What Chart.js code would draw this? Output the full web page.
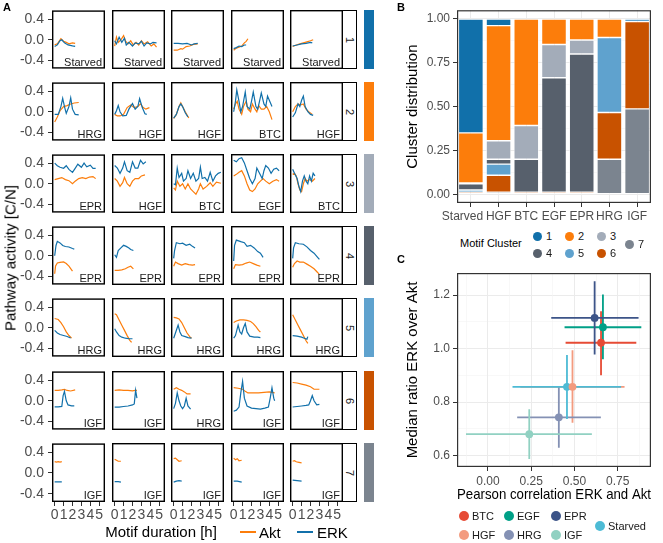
<!DOCTYPE html>
<html>
<head>
<meta charset="utf-8">
<script src="https://cdn.jsdelivr.net/npm/chart.js@4.4.1/dist/chart.umd.min.js"></script>
<style>
  html, body { margin: 0; padding: 0; background: #fff; }
  body { width: 663px; height: 543px; position: relative; overflow: hidden;
         font-family: 'Liberation Sans', Arial, sans-serif; color: #1a1a1a; }
  canvas { position: absolute; }
  .abs { position: absolute; white-space: pre; }
  .strip { position: absolute; box-sizing: border-box; border: 1.4px solid #000; border-left: 0; background: #fff; }
  .dot { position: absolute; border-radius: 50%; }
</style>
</head>
<body>
<script>
// ---------- panel A: example motifs per cluster ----------
const xTicksA = [0, 1, 2, 3, 4, 5];
const yTicksA = [-0.4, 0, 0.4];
const clusters = ['1', '2', '3', '4', '5', '6', '7'];
const clusterColors = ['#1170AA', '#FC7D0B', '#A3ACB9', '#57606C', '#5FA2CE', '#C85200', '#7B848F'];

const panelTreatments = [
  ['Starved', 'Starved', 'Starved', 'Starved', 'Starved'],
  ['HRG', 'HGF', 'HGF', 'BTC', 'HGF'],
  ['EPR', 'HGF', 'BTC', 'EGF', 'BTC'],
  ['EPR', 'EPR', 'EPR', 'EPR', 'EPR'],
  ['HRG', 'HRG', 'HRG', 'HRG', 'HRG'],
  ['IGF', 'IGF', 'HRG', 'IGF', 'IGF'],
  ['IGF', 'IGF', 'IGF', 'IGF', 'IGF']
];

// [time h, activity] pairs, one list per panel
const erk1 = [
  [[0,-0.13],[0.3,-0.1],[0.6,-0.02],[0.8,0.0],[1.1,-0.06],[1.5,-0.1],[2.0,-0.12],[2.3,-0.13]],
  [[0,-0.02],[0.2,-0.08],[0.5,0.05],[0.8,-0.05],[1.1,0.03],[1.3,-0.1],[1.6,-0.05],[2.0,-0.12],[2.3,-0.06],[2.7,-0.08],[3.0,-0.03],[3.3,-0.12],[3.6,-0.06],[4.0,-0.08],[4.3,-0.05],[4.7,-0.06]],
  [[0,-0.07],[0.5,-0.07],[1.0,-0.08],[1.5,-0.07],[2.0,-0.1],[2.3,-0.08],[2.7,-0.07]],
  [[0,-0.17],[0.3,-0.15],[0.6,-0.12],[0.9,-0.13],[1.2,-0.1],[1.4,-0.1]],
  [[0,-0.12],[0.5,-0.1],[1.0,-0.08],[1.5,-0.07],[2.0,-0.05],[2.2,-0.06]]
];
const akt1 = [
  [[0,-0.1],[0.3,-0.08],[0.7,0.02],[1.0,-0.03],[1.3,-0.05],[1.6,-0.08],[2.0,-0.06],[2.3,-0.07]],
  [[0,-0.12],[0.2,0.05],[0.4,-0.05],[0.7,0.0],[1.0,0.08],[1.2,-0.02],[1.5,-0.08],[1.8,-0.02],[2.1,-0.1],[2.4,-0.05],[2.7,-0.1],[3.0,-0.02],[3.3,-0.08],[3.7,-0.04],[4.1,-0.12],[4.4,-0.08],[4.7,-0.14]],
  [[0,-0.2],[0.4,-0.2],[0.8,-0.17],[1.0,-0.18],[1.4,-0.13],[1.8,-0.12],[2.2,-0.09],[2.7,-0.08]],
  [[0,-0.2],[0.3,-0.16],[0.6,-0.14],[0.9,-0.12],[1.2,-0.06],[1.4,-0.03],[1.6,0.02]],
  [[0,-0.13],[0.4,-0.1],[0.8,-0.08],[1.2,-0.06],[1.6,-0.04],[2.0,-0.02],[2.3,0.0]]
];
const erk2 = [
  [[0,-0.05],[0.4,-0.05],[0.7,0.1],[0.9,0.26],[1.1,0.1],[1.3,-0.03],[1.6,0.1],[1.8,0.27],[2.0,0.05],[2.3,-0.05],[2.7,-0.06]],
  [[0,-0.05],[0.2,0.02],[0.4,0.12],[0.6,0.0],[0.9,-0.08],[1.3,-0.07],[1.6,0.05],[2.0,0.16],[2.3,0.05],[2.6,0.1],[2.8,0.25],[3.1,0.08],[3.4,-0.04],[3.6,-0.05]],
  [[0,-0.12],[0.3,-0.05],[0.6,0.1],[0.8,0.15],[1.0,0.1],[1.3,-0.02],[1.6,-0.1]],
  [[0,0.0],[0.2,0.2],[0.35,0.42],[0.6,0.2],[0.8,0.0],[1.0,0.1],[1.3,0.38],[1.5,0.1],[1.8,0.05],[2.0,0.2],[2.2,0.38],[2.5,0.1],[2.7,0.05],[2.9,0.2],[3.1,0.36],[3.4,0.15],[3.6,0.1],[3.8,0.3],[4.0,0.22],[4.3,0.1]],
  [[0,-0.1],[0.3,-0.02],[0.6,0.15],[0.8,0.1],[1.0,0.22],[1.2,0.3],[1.4,0.1],[1.7,0.0],[2.0,-0.05],[2.3,-0.07]]
];
const akt2 = [
  [[0,-0.2],[0.3,-0.1],[0.6,0.02],[1.0,0.1],[1.4,0.12],[1.8,0.15],[2.2,0.17],[2.7,0.18]],
  [[0,-0.05],[0.3,-0.08],[0.6,-0.08],[1.0,-0.05],[1.4,0.08],[1.8,0.13],[2.2,0.08],[2.6,0.1],[2.9,0.15],[3.2,0.08],[3.5,0.05],[3.9,0.08]],
  [[0,-0.13],[0.3,-0.05],[0.6,0.1],[0.8,0.17],[1.0,0.1],[1.3,0.0],[1.7,-0.12]],
  [[0,0.05],[0.2,0.15],[0.4,0.2],[0.6,0.05],[0.9,-0.05],[1.1,0.1],[1.4,0.2],[1.6,0.05],[1.9,0.0],[2.1,0.15],[2.4,0.05],[2.6,0.0],[2.8,0.12],[3.1,0.05],[3.4,0.05],[3.7,0.1],[4.0,0.0],[4.3,-0.15]],
  [[0,0.0],[0.3,0.1],[0.6,0.15],[0.9,0.13],[1.2,0.15],[1.5,0.05],[1.8,0.0],[2.2,-0.05]]
];
const erk3 = [
  [[0,0.4],[0.3,0.35],[0.6,0.32],[1.0,0.3],[1.3,0.35],[1.6,0.28],[2.0,0.22],[2.3,0.3],[2.6,0.38],[3.0,0.32],[3.3,0.4],[3.6,0.33],[4.0,0.36],[4.3,0.3],[4.6,0.3]],
  [[0,0.35],[0.3,0.3],[0.6,0.2],[0.9,0.3],[1.1,0.42],[1.4,0.25],[1.7,0.22],[2.0,0.42],[2.3,0.3],[2.6,0.3],[2.9,0.45],[3.2,0.38],[3.5,0.42]],
  [[0,0.0],[0.2,-0.02],[0.4,0.3],[0.6,0.12],[0.9,0.2],[1.1,0.05],[1.4,0.1],[1.6,0.25],[1.9,0.1],[2.2,0.2],[2.5,0.05],[2.8,0.1],[3.0,0.32],[3.2,0.1],[3.5,0.12],[3.8,0.05],[4.1,0.22],[4.4,0.05],[4.7,0.15],[5.0,0.2],[5.3,0.22]],
  [[0,0.45],[0.3,0.42],[0.6,0.48],[0.9,0.5],[1.2,0.4],[1.5,0.25],[1.8,0.1],[2.1,0.0],[2.4,0.1],[2.6,0.3],[2.9,0.2],[3.2,0.1],[3.4,0.25],[3.6,0.35],[3.9,0.3],[4.2,0.2],[4.5,0.28],[4.8,0.3],[5.1,0.25]],
  [[0,0.28],[0.2,0.2],[0.5,0.1],[0.7,-0.05],[0.9,-0.15],[1.1,0.05],[1.3,0.15],[1.5,0.05],[1.7,0.0],[1.9,0.15],[2.1,0.05],[2.3,0.2],[2.5,0.15]]
];
const akt3 = [
  [[0,0.08],[0.4,0.1],[0.8,0.12],[1.2,0.08],[1.6,0.06],[2.0,0.0],[2.3,0.05],[2.7,0.1],[3.1,0.12],[3.5,0.1],[3.9,0.13],[4.3,0.14],[4.6,0.1]],
  [[0,0.1],[0.3,0.05],[0.6,-0.05],[0.9,0.02],[1.1,0.12],[1.4,0.0],[1.7,-0.05],[2.0,0.05],[2.3,0.1],[2.7,0.1],[3.0,0.15],[3.4,0.17]],
  [[0,-0.08],[0.2,-0.12],[0.4,0.05],[0.7,-0.05],[1.0,0.0],[1.3,-0.1],[1.6,0.0],[1.9,-0.1],[2.2,-0.15],[2.5,-0.2],[2.8,-0.1],[3.0,0.0],[3.3,-0.1],[3.7,-0.05],[4.1,0.02],[4.4,-0.05],[4.8,0.03],[5.3,0.01]],
  [[0,0.15],[0.3,0.18],[0.6,0.22],[0.9,0.25],[1.2,0.15],[1.5,0.0],[1.8,-0.12],[2.1,-0.15],[2.4,-0.1],[2.7,0.0],[3.0,0.05],[3.3,0.1],[3.6,0.05],[4.0,0.0],[4.4,0.05],[4.8,0.08],[5.1,0.05]],
  [[0,0.18],[0.2,0.2],[0.4,0.15],[0.6,0.0],[0.8,-0.12],[1.0,-0.15],[1.2,0.0],[1.4,0.1],[1.6,0.05],[1.9,0.08],[2.2,0.05],[2.5,0.1]]
];
const erk4 = [
  [[0,0.0],[0.15,0.2],[0.3,0.28],[0.6,0.25],[0.9,0.2],[1.2,0.18],[1.6,0.17],[2.0,0.14],[2.2,0.13]],
  [[0,0.02],[0.2,-0.03],[0.4,0.1],[0.7,0.15],[1.0,0.2],[1.3,0.18],[1.6,0.15],[1.8,0.12],[2.1,0.1]],
  [[0,-0.05],[0.1,0.1],[0.3,0.25],[0.7,0.23],[1.0,0.24],[1.4,0.2],[1.8,0.22],[2.1,0.18],[2.4,0.15]],
  [[0,-0.1],[0.1,0.2],[0.3,0.3],[0.8,0.27],[1.2,0.25],[1.5,0.18],[1.9,0.2],[2.3,0.15],[2.7,0.08],[3.0,0.05],[3.3,-0.03]],
  [[0,-0.05],[0.1,0.15],[0.3,0.25],[0.7,0.23],[1.2,0.22],[1.6,0.17],[2.0,0.1],[2.4,0.05],[2.8,-0.03],[3.0,-0.07]]
];
const akt4 = [
  [[0,-0.35],[0.1,-0.2],[0.3,-0.14],[0.6,-0.13],[1.0,-0.12],[1.3,-0.15],[1.6,-0.2],[2.0,-0.3]],
  [[0,-0.28],[0.4,-0.28],[0.8,-0.27],[1.2,-0.25],[1.5,-0.22],[1.8,-0.2],[2.1,-0.25]],
  [[0,-0.2],[0.2,-0.12],[0.5,-0.15],[0.9,-0.18],[1.3,-0.15],[1.7,-0.17],[2.1,-0.18],[2.4,-0.17]],
  [[0,-0.25],[0.2,-0.17],[0.6,-0.18],[1.0,-0.17],[1.4,-0.14],[1.8,-0.12],[2.2,-0.15],[2.6,-0.18],[3.0,-0.2]],
  [[0,-0.22],[0.2,-0.15],[0.5,-0.1],[0.8,-0.12],[1.2,-0.12],[1.6,-0.16],[2.0,-0.2],[2.4,-0.25],[2.8,-0.32],[3.0,-0.36]]
];
const erk5 = [
  [[0,-0.05],[0.3,-0.1],[0.6,-0.13],[1.0,-0.15],[1.4,-0.17],[1.8,-0.2]],
  [[0,-0.02],[0.2,-0.08],[0.5,-0.15],[0.8,-0.18],[1.2,-0.2],[1.6,-0.21],[2.0,-0.21]],
  [[0,-0.2],[0.2,-0.1],[0.5,0.05],[0.7,-0.08],[0.9,-0.15],[1.3,-0.17],[1.6,-0.19],[2.0,-0.2]],
  [[0,-0.2],[0.2,-0.15],[0.5,0.05],[0.7,-0.08],[0.9,-0.12],[1.1,0.0],[1.3,0.08],[1.5,-0.08],[1.8,-0.16],[2.3,-0.18],[2.7,-0.18],[3.0,-0.19]],
  [[0,-0.15],[0.5,-0.16],[1.0,-0.18],[1.3,-0.2],[1.6,-0.22],[1.7,-0.17]]
];
const akt5 = [
  [[0,0.18],[0.4,0.16],[0.7,0.1],[1.0,0.02],[1.3,-0.08],[1.6,-0.15],[1.9,-0.2]],
  [[0,0.27],[0.2,0.25],[0.5,0.15],[0.8,0.05],[1.1,-0.05],[1.4,-0.15],[1.7,-0.24],[1.9,-0.28]],
  [[0,0.2],[0.3,0.19],[0.6,0.17],[0.9,0.1],[1.2,0.0],[1.5,-0.1],[1.8,-0.17],[2.0,-0.2]],
  [[0,0.1],[0.3,0.13],[0.7,0.15],[1.1,0.15],[1.5,0.14],[1.9,0.12],[2.2,0.08],[2.5,0.02],[2.8,-0.05],[3.0,-0.08]],
  [[0,0.25],[0.3,0.15],[0.6,0.05],[0.9,-0.05],[1.2,-0.15],[1.5,-0.25],[1.7,-0.3]]
];
const erk6 = [
  [[0,-0.12],[0.4,-0.12],[0.8,-0.11],[0.95,0.1],[1.1,0.18],[1.3,0.0],[1.5,-0.08],[1.9,-0.1],[2.2,-0.1]],
  [[0,-0.12],[0.5,-0.12],[1.0,-0.11],[1.5,-0.1],[2.0,-0.08],[2.2,-0.06],[2.35,0.2],[2.5,0.05]],
  [[0,-0.15],[0.2,-0.05],[0.4,0.15],[0.6,0.0],[0.8,-0.1],[1.0,-0.15],[1.2,-0.1],[1.4,0.05],[1.6,-0.1],[1.9,-0.16]],
  [[0,-0.2],[0.3,-0.18],[0.6,-0.12],[0.8,0.15],[1.0,0.37],[1.2,0.05],[1.5,-0.1],[2.0,-0.14],[2.5,-0.15],[3.0,-0.16],[3.5,-0.14],[3.9,-0.12],[4.1,0.05],[4.3,0.25],[4.5,0.05],[4.6,0.0]],
  [[0,-0.12],[0.5,-0.11],[1.0,-0.1],[1.5,-0.09],[1.8,-0.08],[2.0,0.0],[2.2,0.1],[2.4,0.0],[2.7,-0.08],[3.0,-0.07]]
];
const akt6 = [
  [[0,0.2],[0.4,0.2],[0.8,0.21],[1.1,0.22],[1.4,0.2],[1.8,0.19],[2.3,0.21]],
  [[0,0.2],[0.5,0.21],[1.0,0.2],[1.5,0.2],[2.0,0.19],[2.3,0.2],[2.5,0.2]],
  [[0,0.22],[0.3,0.25],[0.6,0.22],[0.9,0.2],[1.2,0.17],[1.5,0.13],[1.9,0.13]],
  [[0,0.25],[0.5,0.24],[1.0,0.22],[1.3,0.18],[1.6,0.15],[2.2,0.15],[2.8,0.15],[3.4,0.16],[4.0,0.17],[4.6,0.15]],
  [[0,0.35],[0.5,0.34],[1.0,0.32],[1.5,0.3],[2.0,0.27],[2.4,0.22],[2.7,0.22],[3.0,0.22]]
];
const erk7 = [
  [[0,-0.17],[0.4,-0.17],[0.8,-0.17]],
  [[0,-0.17],[0.4,-0.17],[0.7,-0.18]],
  [[0,-0.18],[0.3,-0.16],[0.6,-0.15],[0.9,-0.16]],
  [[0,-0.16],[0.4,-0.16],[0.9,-0.18]],
  [[0,-0.14],[0.5,-0.15],[1.0,-0.16]]
];
const akt7 = [
  [[0,0.22],[0.2,0.21],[0.4,0.22],[0.6,0.21],[0.8,0.22]],
  [[0,0.26],[0.2,0.24],[0.4,0.22],[0.7,0.22]],
  [[0,0.27],[0.2,0.28],[0.4,0.25],[0.6,0.22],[0.9,0.23]],
  [[0,0.28],[0.2,0.25],[0.4,0.27],[0.6,0.23],[0.9,0.24]],
  [[0,0.22],[0.2,0.23],[0.4,0.21],[0.7,0.2],[1.0,0.19]]
];
const erkRows = [erk1, erk2, erk3, erk4, erk5, erk6, erk7];
const aktRows = [akt1, akt2, akt3, akt4, akt5, akt6, akt7];

// ---------- panel B: cluster distribution per treatment ----------
const treatmentsB = ['Starved', 'HGF', 'BTC', 'EGF', 'EPR', 'HRG', 'IGF'];
const share1 = [0.65, 0.038, 0, 0, 0, 0, 0];
const share2 = [0.286, 0.657, 0.608, 0.146, 0.12, 0.106, 0];
const share3 = [0.005, 0.105, 0.192, 0.189, 0.08, 0, 0];
const share4 = [0.035, 0.028, 0.188, 0.653, 0.788, 0, 0];
const share5 = [0.012, 0.064, 0, 0, 0, 0.428, 0.015];
const share6 = [0.012, 0.096, 0.012, 0.012, 0.012, 0.266, 0.498];
const share7 = [0, 0.012, 0, 0, 0, 0.2, 0.487];
const shares = [share1, share2, share3, share4, share5, share6, share7];
const yTicksB = [0, 0.25, 0.5, 0.75, 1];
const yMinorB = [0.125, 0.375, 0.625, 0.875];

// ---------- panel C: correlation vs ratio ----------
const treatmentsC = ['BTC', 'EGF', 'EPR', 'HGF', 'HRG', 'IGF', 'Starved'];
const treatColors = ['#E64B35', '#00A087', '#3C5488', '#F39B7F', '#8491B4', '#91D1C2', '#4DBBD5'];
const corrMid = [0.654, 0.665, 0.617, 0.489, 0.41, 0.239, 0.457];
const corrLo = [0.449, 0.443, 0.366, 0.187, 0.169, -0.127, 0.142];
const corrHi = [0.858, 0.887, 0.871, 0.790, 0.653, 0.601, 0.77];
const ratioMid = [1.022, 1.080, 1.115, 0.857, 0.743, 0.680, 0.857];
const ratioLo = [0.90, 0.960, 0.978, 0.723, 0.629, 0.587, 0.737];
const ratioHi = [1.140, 1.203, 1.252, 0.994, 0.855, 0.773, 0.976];
const xTicksC = [0, 0.25, 0.5, 0.75];
const xMinorC = [-0.125, 0.125, 0.375, 0.625, 0.875];
const yTicksC = [0.6, 0.8, 1.0, 1.2];
const yMinorC = [0.7, 0.9, 1.1];

const FONT = "'Liberation Sans', Arial, sans-serif";
Chart.defaults.font.family = FONT;
Chart.defaults.animation = false;
Chart.defaults.maintainAspectRatio = false;
Chart.defaults.plugins.legend.display = false;
Chart.defaults.plugins.tooltip.enabled = false;

function addText(str, x, y, css) {
  const d = document.createElement('div');
  d.className = 'abs';
  d.textContent = str;
  d.style.left = x + 'px';
  d.style.top = y + 'px';
  Object.assign(d.style, css || {});
  document.body.appendChild(d);
  return d;
}
function addCanvas(x, y, w, h) {
  const cv = document.createElement('canvas');
  cv.width = w; cv.height = h;
  cv.style.left = x + 'px'; cv.style.top = y + 'px';
  cv.style.width = w + 'px'; cv.style.height = h + 'px';
  document.body.appendChild(cv);
  return cv;
}

// ---- A: small multiples ----
const colLeft = [52, 112, 171, 231, 290];
const rowTop = [10, 82, 154, 226, 298, 371, 443];
const panelW = 53, panelH = 59;
const padX = 4, padY = 12, yAxisW = 36, xAxisH = 24;

const facetBox = {
  id: 'facetBox',
  afterDraw(chart, args, opts) {
    const { ctx, chartArea: a } = chart;
    ctx.save();
    ctx.fillStyle = '#1a1a1a';
    ctx.font = '11px ' + FONT;
    ctx.textAlign = 'right';
    ctx.textBaseline = 'alphabetic';
    ctx.fillText(opts.label, a.right - 3, a.bottom - 3);
    ctx.strokeStyle = '#000';
    ctx.lineWidth = 1.4;
    ctx.strokeRect(a.left + 0.7, a.top + 0.7, a.width - 1.4, a.height - 1.4);
    ctx.restore();
  }
};

const toPts = arr => arr.map(p => ({ x: p[0], y: p[1] }));

for (let r = 0; r < 7; r++) {
  for (let c = 0; c < 5; c++) {
    const showY = c === 0, showX = r === 6;
    const axW = showY ? yAxisW : 0, axH = showX ? xAxisH : 0;
    const cv = addCanvas(colLeft[c] - axW - padX, rowTop[r] - padY, panelW + axW + 2 * padX, panelH + axH + 2 * padY);
    new Chart(cv, {
      type: 'line',
      data: {
        datasets: [
          { label: 'ERK', data: toPts(erkRows[r][c]), borderColor: '#1170AA', borderWidth: 1.2, pointRadius: 0, tension: 0 },
          { label: 'Akt', data: toPts(aktRows[r][c]), borderColor: '#FC7D0B', borderWidth: 1.2, pointRadius: 0, tension: 0 }
        ]
      },
      options: {
        responsive: false,
        layout: { padding: { left: padX, right: padX, top: padY, bottom: padY } },
        plugins: { facetBox: { label: panelTreatments[r][c] } },
        scales: {
          x: {
            type: 'linear', min: -0.3, max: 5.65, display: showX,
            afterBuildTicks: s => { s.ticks = xTicksA.map(v => ({ value: v })); },
            ticks: { color: '#4D4D4D', font: { size: 14 }, padding: 1, autoSkip: false, maxRotation: 0, minRotation: 0, callback: v => String(v) },
            grid: { drawOnChartArea: false, tickLength: 4, color: '#333' },
            border: { display: false },
            afterFit: s => { s.height = axH; }
          },
          y: {
            type: 'linear', min: -0.56, max: 0.57, display: showY,
            afterBuildTicks: s => { s.ticks = yTicksA.map(v => ({ value: v })); },
            ticks: { color: '#4D4D4D', font: { size: 14 }, padding: 4, callback: v => v.toFixed(1) },
            grid: { drawOnChartArea: false, tickLength: 4, color: '#333' },
            border: { display: false },
            afterFit: s => { s.width = axW; }
          }
        }
      },
      plugins: [facetBox]
    });
  }
  // facet strip and cluster colour bar
  const strip = document.createElement('div');
  strip.className = 'strip';
  Object.assign(strip.style, { left: '343px', top: rowTop[r] + 'px', width: '14px', height: panelH + 'px' });
  const num = document.createElement('div');
  num.textContent = clusters[r];
  Object.assign(num.style, { position: 'absolute', left: '50%', top: '50%', transform: 'translate(-50%,-50%) rotate(90deg)', fontSize: '11px', color: '#1a1a1a' });
  strip.appendChild(num);
  document.body.appendChild(strip);
  const bar = document.createElement('div');
  Object.assign(bar.style, { position: 'absolute', left: '364px', top: rowTop[r] + 'px', width: '10px', height: panelH + 'px', background: clusterColors[r] });
  document.body.appendChild(bar);
}

addText('A', 3, 1, { fontWeight: 'bold', fontSize: '11px', color: '#000' });
addText('Pathway activity [C/N]', 10, 258, { fontSize: '15px', color: '#000', transform: 'translate(-50%,-50%) rotate(-90deg)' });
addText('Motif duration [h]', 161, 531, { fontSize: '15px', color: '#000', transform: 'translate(-50%,-50%)' });
const akLine = document.createElement('div');
Object.assign(akLine.style, { position: 'absolute', left: '240px', top: '530.5px', width: '16px', height: '2.5px', background: '#FC7D0B' });
document.body.appendChild(akLine);
addText('Akt', 259, 532, { fontSize: '15px', color: '#000', transform: 'translateY(-50%)' });
const erLine = document.createElement('div');
Object.assign(erLine.style, { position: 'absolute', left: '297px', top: '530.5px', width: '16px', height: '2.5px', background: '#1170AA' });
document.body.appendChild(erLine);
addText('ERK', 317, 532, { fontSize: '15px', color: '#000', transform: 'translateY(-50%)' });

// ---- shared frame for B and C ----
const bwFrame = {
  id: 'bwFrame',
  afterDraw(chart) {
    const { ctx, chartArea: a } = chart;
    ctx.save();
    ctx.strokeStyle = '#333';
    ctx.lineWidth = 1.2;
    ctx.strokeRect(a.left + 0.6, a.top + 0.6, a.width - 1.2, a.height - 1.2);
    ctx.restore();
  }
};
const tickFont = { size: 12 };
const axisTitle = (text) => ({ display: true, text, color: '#000', font: { size: 15 }, padding: { top: 0, bottom: 0 } });

// ---- B: stacked bars ----
const cvB = addCanvas(404, 0, 259, 228);
new Chart(cvB, {
  type: 'bar',
  data: {
    labels: treatmentsB,
    datasets: clusters.map((k, i) => i).reverse().map(i => ({
      label: clusters[i], data: shares[i], backgroundColor: clusterColors[i],
      borderColor: '#fff', borderWidth: 0.7, borderSkipped: false,
      barPercentage: 0.9, categoryPercentage: 1
    }))
  },
  options: {
    responsive: false,
    layout: { padding: { top: 9, right: 12, left: 0, bottom: 0 } },
    scales: {
      y: {
        stacked: true, min: -0.05, max: 1.05,
        afterBuildTicks: s => { s.ticks = yTicksB.map(v => ({ value: v })); },
        ticks: { color: '#4D4D4D', font: tickFont, padding: 3, callback: v => v.toFixed(2) },
        grid: { color: '#EBEBEB', tickColor: '#333', tickLength: 4 },
        border: { display: false },
        title: axisTitle('Cluster distribution'),
        afterFit: s => { s.width = 53; }
      },
      yMinor: {
        type: 'linear', position: 'left', min: -0.05, max: 1.05,
        afterBuildTicks: s => { s.ticks = yMinorB.map(v => ({ value: v })); },
        ticks: { display: false },
        grid: { color: '#F3F3F3', lineWidth: 0.6, drawTicks: false },
        border: { display: false },
        afterFit: s => { s.width = 0; }
      },
      x: {
        stacked: true,
        ticks: { color: '#4D4D4D', font: tickFont, padding: 2, autoSkip: false, maxRotation: 0,
                 callback: (v, i) => i === 0 ? treatmentsB[i] + '     ' : treatmentsB[i] },
        grid: { offset: false, color: '#EBEBEB', tickColor: '#333', tickLength: 4 },
        border: { display: false },
        afterFit: s => { s.height = 25; }
      }
    }
  },
  plugins: [bwFrame]
});
addText('B', 397, 1, { fontWeight: 'bold', fontSize: '11px', color: '#000' });

// B legend
addText('Motif Cluster', 460, 243, { fontSize: '11px', color: '#000', transform: 'translateY(-50%)' });
const legPosB = [[537, 236], [569, 236], [601, 236], [537, 253], [569, 253], [601, 253], [629, 244]];
clusters.forEach((k, i) => {
  const [x, y] = legPosB[i];
  const d = document.createElement('div');
  d.className = 'dot';
  Object.assign(d.style, { left: (x - 4.5) + 'px', top: (y - 4.5) + 'px', width: '9px', height: '9px', background: clusterColors[i] });
  document.body.appendChild(d);
  addText(k, x + 9, y, { fontSize: '11px', color: '#1a1a1a', transform: 'translateY(-50%)' });
});

// ---- C: scatter with error bars ----
const errorBars = {
  id: 'errorBars',
  beforeDatasetsDraw(chart) {
    const { ctx, scales: { x, y } } = chart;
    ctx.save();
    ctx.lineWidth = 1.8;
    treatmentsC.forEach((t, i) => {
      ctx.strokeStyle = treatColors[i];
      ctx.beginPath();
      ctx.moveTo(x.getPixelForValue(corrLo[i]), y.getPixelForValue(ratioMid[i]));
      ctx.lineTo(x.getPixelForValue(corrHi[i]), y.getPixelForValue(ratioMid[i]));
      ctx.moveTo(x.getPixelForValue(corrMid[i]), y.getPixelForValue(ratioLo[i]));
      ctx.lineTo(x.getPixelForValue(corrMid[i]), y.getPixelForValue(ratioHi[i]));
      ctx.stroke();
    });
    ctx.restore();
  }
};
const cvC = addCanvas(404, 262, 259, 242);
new Chart(cvC, {
  type: 'scatter',
  data: {
    datasets: treatmentsC.map((t, i) => ({
      label: t, data: [{ x: corrMid[i], y: ratioMid[i] }],
      backgroundColor: treatColors[i], borderWidth: 0, pointRadius: 3.9
    }))
  },
  options: {
    responsive: false,
    layout: { padding: { top: 11, right: 12, left: 0, bottom: 0 } },
    scales: {
      y: {
        min: 0.557, max: 1.283,
        afterBuildTicks: s => { s.ticks = yTicksC.map(v => ({ value: v })); },
        ticks: { color: '#4D4D4D', font: tickFont, padding: 3, callback: v => v.toFixed(1) },
        grid: { color: '#EBEBEB', tickColor: '#333', tickLength: 4 },
        border: { display: false },
        title: axisTitle('Median ratio ERK over Akt'),
        afterFit: s => { s.width = 53; }
      },
      yMinor: {
        type: 'linear', position: 'left', min: 0.557, max: 1.283,
        afterBuildTicks: s => { s.ticks = yMinorC.map(v => ({ value: v })); },
        ticks: { display: false },
        grid: { color: '#F3F3F3', lineWidth: 0.6, drawTicks: false },
        border: { display: false },
        afterFit: s => { s.width = 0; }
      },
      x: {
        type: 'linear', min: -0.179, max: 0.943,
        afterBuildTicks: s => { s.ticks = xTicksC.map(v => ({ value: v })); },
        ticks: { color: '#4D4D4D', font: tickFont, padding: 3, autoSkip: false, maxRotation: 0, callback: v => v.toFixed(2) },
        grid: { color: '#EBEBEB', tickColor: '#333', tickLength: 4 },
        border: { display: false },
        title: axisTitle('Pearson correlation ERK and Akt'),
        afterFit: s => { s.height = 37; }
      },
      xMinor: {
        type: 'linear', position: 'bottom', min: -0.179, max: 0.943,
        afterBuildTicks: s => { s.ticks = xMinorC.map(v => ({ value: v })); },
        ticks: { display: false },
        grid: { color: '#F3F3F3', lineWidth: 0.6, drawTicks: false },
        border: { display: false },
        afterFit: s => { s.height = 0; }
      }
    }
  },
  plugins: [bwFrame, errorBars]
});
addText('C', 397, 253, { fontWeight: 'bold', fontSize: '11px', color: '#000' });

// C legend
const legPosC = [[464, 516], [509, 516], [556, 516], [464, 535], [509, 535], [556, 535], [600, 526]];
treatmentsC.forEach((t, i) => {
  const [x, y] = legPosC[i];
  const d = document.createElement('div');
  d.className = 'dot';
  Object.assign(d.style, { left: (x - 5) + 'px', top: (y - 5) + 'px', width: '10px', height: '10px', background: treatColors[i] });
  document.body.appendChild(d);
  addText(t, x + 8, y, { fontSize: '11px', color: '#1a1a1a', transform: 'translateY(-50%)' });
});
</script>
</body>
</html>
